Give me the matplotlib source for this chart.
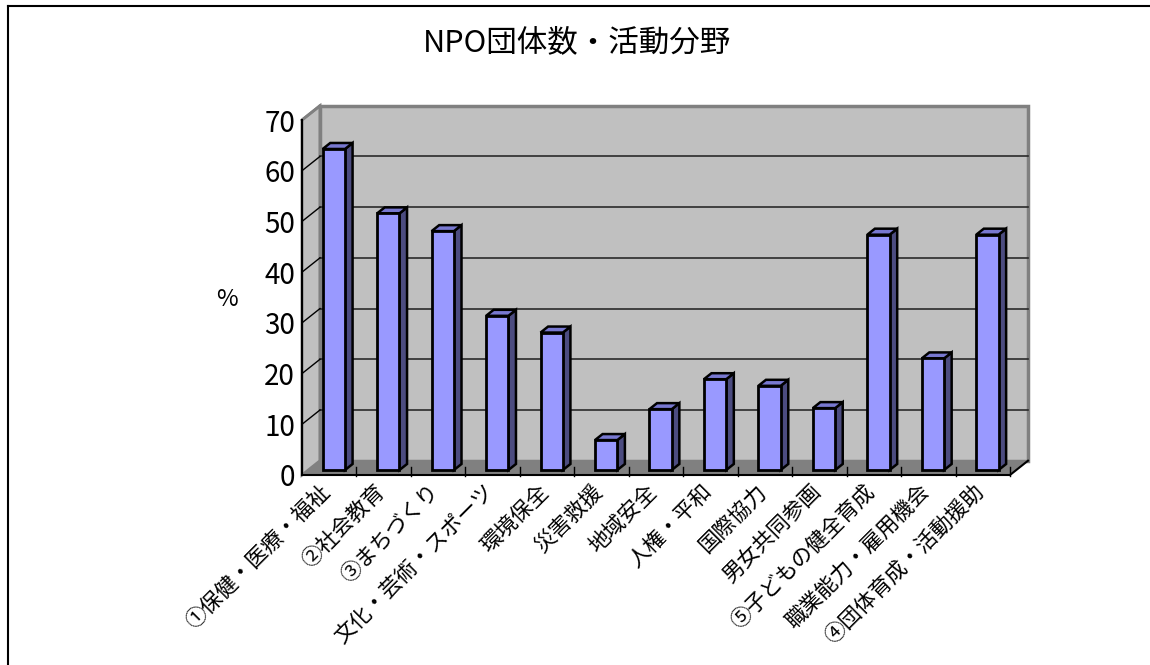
import matplotlib
matplotlib.use('Agg')
import matplotlib.pyplot as plt
from matplotlib.patches import Polygon, Rectangle
from matplotlib.lines import Line2D

plt.rcParams['font.family'] = ['Noto Sans CJK JP', 'DejaVu Sans']

# ---- data ----
categories = ['①保健・医療・福祉', '②社会教育', '③まちづくり', '文化・芸術・スポーツ',
              '環境保全', '災害救援', '地域安全', '人権・平和', '国際協力',
              '男女共同参画', '⑤子どもの健全育成', '職業能力・雇用機会', '④団体育成・活動援助']
values = [63.3, 50.6, 47.1, 30.4, 27.1, 5.9, 12.0, 17.9, 16.6, 12.2, 46.4, 22.0, 46.4]
yticks = [0, 10, 20, 30, 40, 50, 60, 70]
title = 'NPO団体数・活動分野'
ylabel = '%'

W, H = 1150, 665
fig = plt.figure(figsize=(W / 100, H / 100), dpi=100)
ax = fig.add_axes([302 / W, (H - 475) / H, 708 / W, 355 / H])
n = len(values)
ymax = 70
ax.set_xlim(0, n)
ax.set_ylim(0, ymax)
ax.patch.set_visible(False)
for s in ax.spines.values():
    s.set_visible(False)

# depth offset in data units
DX = 18 / (708 / n)
DY = 14.3 / (355 / ymax)

# walls
ax.add_patch(Polygon([(0, 0), (0, ymax), (DX, ymax + DY), (DX, DY)], closed=True,
                     fc='#c0c0c0', ec='#808080', lw=2, clip_on=False, zorder=1))
ax.add_patch(Rectangle((DX, DY), n, ymax, fc='#c0c0c0', ec='#808080', lw=2.5,
                       clip_on=False, zorder=1))
ax.add_patch(Polygon([(0, 0), (n, 0), (n + DX, DY), (DX, DY)], closed=True,
                     fc='#808080', ec='none', clip_on=False, zorder=2))

# gridlines
for v in yticks[1:-1]:
    ax.plot([DX, n + DX], [v + DY, v + DY], color='#2a2a2a', lw=1.2, zorder=1.5, clip_on=False)
    ax.plot([0, DX], [v, v + DY], color='black', lw=1, zorder=1.5, clip_on=False)
ax.plot([0, DX], [ymax, ymax + DY], color='#808080', lw=2, zorder=1.6, clip_on=False)

# floor edges, axis
ax.plot([0, n, n + DX], [0, 0, DY], color='black', lw=1.5, zorder=3, clip_on=False)
ax.plot([0, 0], [0, ymax], color='black', lw=1.5, zorder=3, clip_on=False)
for k in range(1, n + 1):
    ax.plot([k, k], [-0.2, 1.6], color='black', lw=1, zorder=3, clip_on=False)

# bars
f0, fb, bw = 0.35, 0.42, 0.41
for i, v in enumerate(values):
    x0 = i + 0.38
    y0 = f0 * DY
    ddx, ddy = fb * DX, fb * DY
    ax.add_patch(Polygon([(x0 + bw, y0), (x0 + bw + ddx, y0 + ddy),
                          (x0 + bw + ddx, y0 + v + ddy), (x0 + bw, y0 + v)], closed=True,
                         fc='#4c4c80', ec='black', lw=1.8, joinstyle='miter', zorder=4, clip_on=False))
    ax.add_patch(Polygon([(x0, y0 + v), (x0 + bw, y0 + v), (x0 + bw + ddx, y0 + v + ddy),
                          (x0 + ddx, y0 + v + ddy)], closed=True,
                         fc='#7878d0', ec='black', lw=1.8, joinstyle='miter', zorder=4, clip_on=False))
    ax.add_patch(Rectangle((x0, y0), bw, v, fc='#9999ff', ec='black', lw=2,
                           joinstyle='miter', zorder=5, clip_on=False))

# ticks
ax.set_yticks(yticks)
ax.set_yticklabels([str(t) for t in yticks], fontsize=20)
ax.tick_params(axis='y', length=0, pad=5)
ax.set_xticks([i + 0.5 - 10 / 54.5 for i in range(n)])
ax.set_xticklabels(categories, rotation=45, ha='right', va='top',
                   rotation_mode='anchor', fontsize=15.5)
ax.tick_params(axis='x', length=0, pad=4)

fig.text(577 / W, 1 - 43 / H, title, ha='center', va='center', fontsize=22)
fig.text(227 / W, 1 - 300 / H, ylabel, ha='center', va='center', fontsize=17)

# outer border
fig.add_artist(Line2D([8 / W, 8 / W], [0, 1 - 6 / H], color='black', lw=1.5))
fig.add_artist(Line2D([8 / W, 1], [1 - 6 / H, 1 - 6 / H], color='black', lw=1.5))

fig.savefig('out.png', dpi=100)
